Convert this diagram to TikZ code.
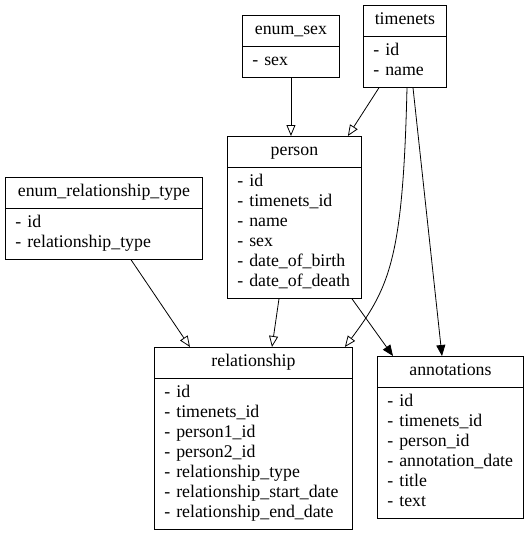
\documentclass[tikz,border=0pt]{standalone}
\usepackage{fontspec}
\setmainfont{Liberation Serif}
\usetikzlibrary{shapes.multipart,arrows.meta}

\tikzset{
  entity/.style={draw, line width=0.9pt, rectangle split, rectangle split parts=2,
    anchor=north west, align=left, inner xsep=10pt, inner ysep=5pt,
    font=\rmfamily\fontsize{17.8}{20}\selectfont},
  openarrow/.style={-{Triangle[open,length=11pt,width=9pt]}, line width=0.8pt},
  fullarrow/.style={-{Triangle[length=11pt,width=9pt]}, line width=0.8pt},
}
\newcommand{\hdr}[1]{\centering\strut #1\par}

\begin{document}
\begin{tikzpicture}[x=1pt,y=-1pt]
    \useasboundingbox (0,0) rectangle (529,536);

    % tables
    \node [entity, text width=77pt] (enumsex) at (242,15)
        {\hdr{enum\_sex}\nodepart{two}\strut- sex};
    \node [entity, text width=63pt] (timenets) at (363,5)
        {\hdr{timenets}\nodepart{two}\strut- id\\\strut- name};
    \node [entity, text width=114pt] (person) at (227,136)
        {\hdr{person}\nodepart{two}\strut- id\\\strut- timenets\_id\\\strut- name\\
         \strut- sex\\\strut- date\_of\_birth\\\strut- date\_of\_death};
    \node [entity, text width=177pt] (enumreltype) at (5,177)
        {\hdr{enum\_relationship\_type}\nodepart{two}\strut- id\\\strut- relationship\_type};
    \node [entity, text width=178pt] (relationship) at (154,347)
        {\hdr{relationship}\nodepart{two}\strut- id\\\strut- timenets\_id\\\strut- person1\_id\\
         \strut- person2\_id\\\strut- relationship\_type\\\strut- relationship\_start\_date\\
         \strut- relationship\_end\_date};
    \node [entity, text width=126pt] (annotations) at (377,356)
        {\hdr{annotations}\nodepart{two}\strut- id\\\strut- timenets\_id\\\strut- person\_id\\
         \strut- annotation\_date\\\strut- title\\\strut- text};

    % references
    \draw [openarrow] (enumsex.south) -- (enumsex.south |- person.north);
    \draw [openarrow] ([xshift=16pt]timenets.south west) -- ([xshift=-14pt]person.north east);
    \draw [openarrow] ([xshift=44pt]timenets.south west)
        .. controls +(-4,170) and +(45,-60) .. ([xshift=-8pt]relationship.north east);
    \draw [fullarrow] ([xshift=50pt]timenets.south west) -- ([xshift=65pt]annotations.north west);
    \draw [openarrow] ([xshift=126pt]enumreltype.south west) -- ([xshift=36pt]relationship.north west);
    \draw [openarrow] ([xshift=52pt]person.south west) -- ([xshift=118pt]relationship.north west);
    \draw [fullarrow] ([xshift=-10pt]person.south east) -- ([xshift=16pt]annotations.north west);
\end{tikzpicture}
\end{document}
